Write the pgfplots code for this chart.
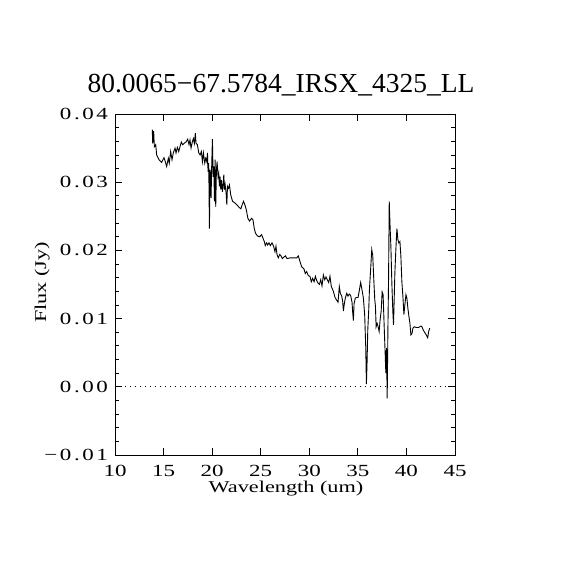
\documentclass[border=0pt]{standalone}
\usepackage{fontspec}
\setmainfont{Liberation Serif}
\newfontfamily\labfont[FakeStretch=1.35]{Liberation Serif}
\newfontfamily\ytfont[FakeStretch=1.35,LetterSpace=15]{Liberation Serif}
\usepackage{pgfplots}
\pgfplotsset{compat=1.18}
\begin{document}
\begin{tikzpicture}
\useasboundingbox (0pt,0pt) rectangle (570pt,570pt);
\begin{axis}[
  at={(115pt,115pt)}, anchor=south west,
  width=340pt, height=341pt, scale only axis,
  xmin=10, xmax=45, ymin=-0.01, ymax=0.04,
  xtick={10,15,20,25,30,35,40,45},
  ytick={-0.01,0,0.01,0.02,0.03,0.04},
  yticklabels={−0.01,0.00,0.01,0.02,0.03,0.04},
  /pgf/number format/assume math mode=true,
  scaled y ticks=false,
  minor y tick num=4,
  tick align=inside,
  major tick length=7pt, minor tick length=4pt,
  every tick/.style={black, line width=0.8pt},
  axis line style={line width=0.9pt},
  xticklabel style={font=\labfont\fontsize{17}{20}\selectfont, inner sep=0pt, anchor=north, yshift=-10pt},
  yticklabel style={font=\ytfont\fontsize{17}{20}\selectfont, inner sep=0pt, anchor=east, xshift=-7pt},
  xlabel={Wavelength (um)},
  ylabel={Flux (Jy)},
  label style={font=\labfont\fontsize{16.5}{19}\selectfont, inner sep=0pt},
  xlabel style={at={(axis description cs:0.503,-0.0745)}, anchor=north},
  ylabel style={at={(axis description cs:-0.1912,0.506)}, anchor=south},
  clip=true,
]
\addplot[black, line width=0.6pt, dash pattern=on 1pt off 4pt] coordinates {(10,0) (45,0)};
\addplot[black, line width=0.9pt] table[row sep=\\] {
x y\\
13.84 0.0377\\ 13.88 0.0357\\ 13.98 0.0375\\ 14.05 0.0352\\ 14.19 0.0355\\
14.29 0.0340\\ 14.53 0.0333\\ 14.80 0.0329\\ 15.04 0.0336\\ 15.18 0.0330\\
15.32 0.0323\\ 15.49 0.0335\\ 15.59 0.0328\\ 15.73 0.0345\\ 15.87 0.0333\\
16.00 0.0343\\ 16.18 0.0350\\ 16.28 0.0343\\ 16.42 0.0351\\ 16.56 0.0345\\
16.69 0.0352\\ 16.83 0.0359\\ 16.97 0.0355\\ 17.11 0.0357\\ 17.31 0.0359\\
17.48 0.0363\\ 17.62 0.0355\\ 17.72 0.0362\\ 17.83 0.0350\\ 17.96 0.0359\\
18.07 0.0364\\ 18.17 0.0357\\ 18.27 0.0372\\ 18.34 0.0357\\ 18.48 0.0355\\
18.62 0.0343\\ 18.76 0.0340\\ 18.89 0.0345\\ 19.00 0.0330\\ 19.10 0.0343\\
19.24 0.0328\\ 19.34 0.0335\\ 19.45 0.0330\\ 19.52 0.0343\\ 19.58 0.0315\\
19.65 0.0328\\ 19.72 0.0232\\ 19.79 0.0318\\ 19.86 0.0308\\ 19.89 0.0277\\
19.96 0.0328\\ 20.03 0.0363\\ 20.10 0.0308\\ 20.17 0.0323\\ 20.24 0.0272\\
20.30 0.0333\\ 20.37 0.0264\\ 20.44 0.0318\\ 20.51 0.0330\\ 20.61 0.0308\\
20.68 0.0313\\ 20.75 0.0294\\ 20.82 0.0308\\ 20.89 0.0289\\ 20.96 0.0303\\
21.06 0.0286\\ 21.13 0.0296\\ 21.20 0.0311\\ 21.27 0.0289\\ 21.34 0.0296\\
21.44 0.0284\\ 21.51 0.0267\\ 21.58 0.0294\\ 21.68 0.0291\\ 21.78 0.0296\\
21.92 0.0281\\ 22.10 0.0272\\ 22.30 0.0270\\ 22.54 0.0267\\ 22.78 0.0263\\
22.96 0.0261\\ 23.09 0.0267\\ 23.23 0.0272\\ 23.37 0.0267\\ 23.51 0.0260\\
23.68 0.0247\\ 23.85 0.0243\\ 24.06 0.0247\\ 24.20 0.0245\\ 24.34 0.0232\\
24.47 0.0225\\ 24.68 0.0221\\ 24.89 0.0220\\ 25.09 0.0223\\ 25.23 0.0218\\
25.37 0.0213\\ 25.47 0.0207\\ 25.61 0.0211\\ 25.71 0.0208\\ 25.85 0.0211\\
25.99 0.0207\\ 26.16 0.0211\\ 26.33 0.0206\\ 26.47 0.0198\\ 26.57 0.0206\\
26.68 0.0194\\ 26.81 0.0189\\ 26.95 0.0194\\ 27.09 0.0192\\ 27.23 0.0188\\
27.37 0.0190\\ 27.54 0.0192\\ 27.71 0.0188\\ 28.01 0.0189\\ 28.33 0.0189\\
28.70 0.0189\\ 28.87 0.0192\\ 29.04 0.0184\\ 29.21 0.0176\\ 29.45 0.0173\\
29.59 0.0166\\ 29.73 0.0169\\ 29.90 0.0163\\ 30.07 0.0162\\ 30.21 0.0154\\
30.35 0.0159\\ 30.49 0.0154\\ 30.63 0.0162\\ 30.76 0.0156\\ 30.90 0.0152\\
31.04 0.0150\\ 31.18 0.0157\\ 31.31 0.0148\\ 31.45 0.0164\\ 31.59 0.0157\\
31.72 0.0161\\ 31.86 0.0157\\ 32.00 0.0153\\ 32.13 0.0162\\ 32.27 0.0147\\
32.48 0.0140\\ 32.65 0.0131\\ 32.82 0.0127\\ 32.96 0.0124\\ 33.09 0.0147\\
33.20 0.0137\\ 33.34 0.0133\\ 33.44 0.0125\\ 33.51 0.0111\\ 33.61 0.0122\\
33.71 0.0130\\ 33.85 0.0137\\ 33.99 0.0133\\ 34.12 0.0136\\ 34.26 0.0134\\
34.40 0.0124\\ 34.47 0.0109\\ 34.54 0.0097\\ 34.61 0.0122\\ 34.74 0.0130\\
34.88 0.0131\\ 35.02 0.0131\\ 35.16 0.0142\\ 35.29 0.0153\\ 35.43 0.0142\\
35.57 0.0130\\ 35.70 0.0106\\ 35.81 0.0059\\ 35.88 0.0004\\ 35.95 0.0037\\
36.02 0.0083\\ 36.12 0.0113\\ 36.19 0.0142\\ 36.33 0.0176\\ 36.43 0.0201\\
36.53 0.0193\\ 36.64 0.0157\\ 36.74 0.0128\\ 36.81 0.0118\\ 36.88 0.0088\\
36.98 0.0093\\ 37.09 0.0088\\ 37.19 0.0081\\ 37.29 0.0098\\ 37.40 0.0111\\
37.50 0.0139\\ 37.60 0.0135\\ 37.71 0.0088\\ 37.81 0.0049\\ 37.88 0.0020\\
37.95 0.0057\\ 38.02 -0.0017\\ 38.09 0.0081\\ 38.16 0.0157\\ 38.23 0.0272\\
38.33 0.0230\\ 38.40 0.0206\\ 38.50 0.0152\\ 38.60 0.0111\\ 38.67 0.0091\\
38.74 0.0128\\ 38.81 0.0167\\ 38.91 0.0201\\ 39.02 0.0232\\ 39.12 0.0216\\
39.22 0.0211\\ 39.33 0.0213\\ 39.43 0.0191\\ 39.53 0.0154\\ 39.64 0.0132\\
39.74 0.0106\\ 39.84 0.0120\\ 39.95 0.0135\\ 40.05 0.0130\\ 40.15 0.0115\\
40.26 0.0103\\ 40.36 0.0093\\ 40.46 0.0076\\ 40.57 0.0078\\ 40.67 0.0086\\
40.81 0.0088\\ 41.01 0.0087\\ 41.25 0.0087\\ 41.49 0.0089\\ 41.60 0.0088\\
41.74 0.0083\\ 41.91 0.0079\\ 42.05 0.0076\\ 42.19 0.0072\\ 42.29 0.0081\\
42.39 0.0086\\
};
\end{axis}
\node[anchor=base, inner sep=0pt, font=\fontsize{27.5}{32}\selectfont] at (281pt,477pt) {80.0065−67.5784\_IRSX\_4325\_LL};
\end{tikzpicture}
\end{document}
